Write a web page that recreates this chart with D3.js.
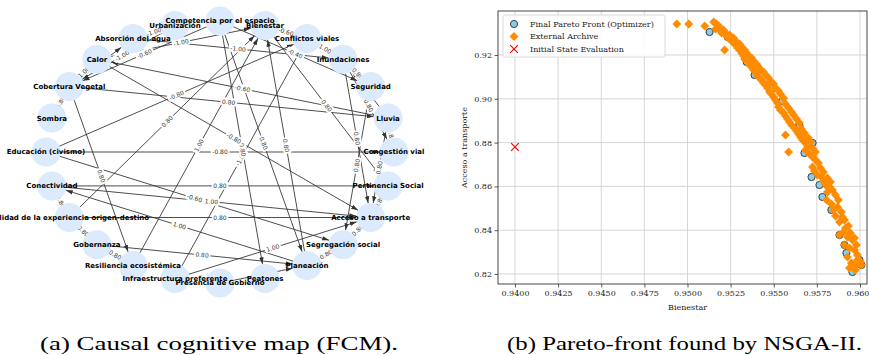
<!DOCTYPE html>
<html>
<head>
<meta charset="utf-8">
<script src="https://cdn.jsdelivr.net/npm/d3@7"></script>
<style>
body { margin: 0; background: #fff; }
svg { display: block; }
</style>
</head>
<body>
<svg id="mysvg" width="869" height="355"></svg>
<script>
// FCM concepts, clockwise from the top of the circle
var nodeNames = ["Competencia por el espacio", "Bienestar", "Conflictos viales", "Inundaciones",
    "Seguridad", "Lluvia", "Congestión vial", "Pertinencia Social", "Acceso a transporte",
    "Segregación social", "Planeación", "Peatones", "Presencia de Gobierno",
    "Infraestructura preferente", "Resiliencia ecosistémica", "Gobernanza",
    "Calidad de la experiencia  origen-destino", "Conectividad", "Educación (civismo)",
    "Sombra", "Cobertura Vegetal", "Calor", "Absorción del agua", "Urbanización"];

// causal links (index into nodeNames) and their weights
var edgeSource = [23, 20, 20, 23, 0, 21, 5, 22, 2, 0, 3, 5, 3, 3, 5, 3, 4, 5, 7, 9, 10, 12,
    18, 18, 18, 17, 17, 10, 16, 16, 17, 15, 15, 15, 20, 20, 14, 13, 13, 0, 0, 10, 1, 21, 20];
var edgeTarget = [22, 22, 21, 20, 20, 1, 21, 3, 1, 4, 2, 3, 4, 6, 6, 8, 9, 8, 8, 8, 9, 10,
    6, 2, 9, 7, 8, 17, 8, 1, 16, 16, 10, 14, 14, 19, 1, 2, 8, 10, 11, 1, 7, 8, 5];
var edgeWeight = ["-1.00", "1.00", "-1.00", "-1.00", "-0.60", "-1.00", "-0.60", "-1.00", "-0.60",
    "-0.40", "1.00", "0.80", "-0.80", "0.80", "0.80", "0.80", "0.80", "0.80", "0.80", "-0.80",
    "-0.80", "0.80", "-0.80", "-0.80", "-0.60", "0.80", "1.00", "1.00", "0.80", "0.80", "0.80",
    "0.80", "0.80", "0.80", "0.80", "0.80", "1.00", "-1.00", "1.00", "0.80", "0.80", "0.80",
    "0.80", "-0.80", "0.80"];

// Pareto plot data (Bienestar, Acceso a transporte)
var frontBienestar = [0.95128, 0.95233, 0.95343, 0.95389, 0.95493, 0.95551, 0.95638, 0.95649,
    0.95678, 0.95725, 0.95719, 0.95765, 0.95782, 0.95834, 0.95881, 0.95910, 0.95921, 0.95956,
    0.96008, 0.95997];
var frontAcceso = [0.93050, 0.92822, 0.91680, 0.91087, 0.90493, 0.89900, 0.88712, 0.88758,
    0.87525, 0.87982, 0.86429, 0.86064, 0.85516, 0.84922, 0.83781, 0.83324, 0.82959, 0.82091,
    0.82411, 0.82639];

var archiveBienestar = [0.94938, 0.95007, 0.95100, 0.95152, 0.95169, 0.95181, 0.95163, 0.95186,
    0.95198, 0.95215, 0.95227, 0.95238, 0.95250, 0.95262, 0.95273, 0.95285, 0.95291, 0.95302,
    0.95314, 0.95325, 0.95331, 0.95343, 0.95354, 0.95360, 0.95372, 0.95383, 0.95395, 0.95406,
    0.95418, 0.95429, 0.95441, 0.95453, 0.95464, 0.95476, 0.95487, 0.95499, 0.95510, 0.95522,
    0.95528, 0.95539, 0.95557, 0.95568, 0.95580, 0.95591, 0.95603, 0.95620, 0.95632, 0.95644,
    0.95568, 0.95655, 0.95667, 0.95684, 0.95696, 0.95586, 0.95684, 0.95707, 0.95725, 0.95742,
    0.95725, 0.95736, 0.95753, 0.95777, 0.95788, 0.95800, 0.95823, 0.95811, 0.95806, 0.95834,
    0.95846, 0.95869, 0.95858, 0.95898, 0.95881, 0.95916, 0.95904, 0.95881, 0.95927, 0.95956,
    0.95910, 0.95939, 0.95968, 0.95927, 0.95985, 0.95950, 0.95939, 0.95973, 0.96008,
    0.95209, 0.95221, 0.95244, 0.95267, 0.95279, 0.95302, 0.95314, 0.95331, 0.95343, 0.95354,
    0.95372, 0.95383, 0.95400, 0.95412, 0.95424, 0.95441, 0.95453, 0.95470, 0.95481, 0.95499,
    0.95510, 0.95528, 0.95539, 0.95557, 0.95568, 0.95586, 0.95603, 0.95615, 0.95632, 0.95649,
    0.95661, 0.95678, 0.95701, 0.95713, 0.95725, 0.95742, 0.95759, 0.95771, 0.95788, 0.95811,
    0.95829, 0.95840, 0.95858, 0.95875, 0.95892, 0.95910, 0.95933, 0.95944, 0.95968, 0.95979,
    0.95985, 0.96002, 0.95979, 0.95956];
var archiveAcceso = [0.93416, 0.93416, 0.93324, 0.93507, 0.93416, 0.93324, 0.93187, 0.93142,
    0.93005, 0.92228, 0.92868, 0.92776, 0.92685, 0.92594, 0.92502, 0.92457, 0.92320, 0.92228,
    0.92091, 0.91954, 0.91817, 0.91772, 0.91680, 0.91543, 0.91452, 0.91315, 0.91178, 0.91041,
    0.90950, 0.90858, 0.90721, 0.90630, 0.90493, 0.90311, 0.90219, 0.90082, 0.89945, 0.89808,
    0.89626, 0.89489, 0.89352, 0.89215, 0.89078, 0.88941, 0.88804, 0.88667, 0.88530, 0.88393,
    0.88347, 0.88256, 0.88119, 0.87982, 0.87845, 0.87571, 0.87662, 0.87479, 0.87342, 0.87205,
    0.86886, 0.86703, 0.86521, 0.86429, 0.86247, 0.86064, 0.85973, 0.85744, 0.85379, 0.85196,
    0.84922, 0.85059, 0.84648, 0.84603, 0.84374, 0.84100, 0.83918, 0.83781, 0.83689, 0.83553,
    0.83324, 0.83187, 0.83096, 0.82776, 0.82639, 0.82502, 0.82274, 0.82183, 0.82411,
    0.93142, 0.93005, 0.92913, 0.92776, 0.92639, 0.92502, 0.92365, 0.92228, 0.92091, 0.91954,
    0.91863, 0.91726, 0.91589, 0.91452, 0.91315, 0.91224, 0.91087, 0.90950, 0.90813, 0.90676,
    0.90493, 0.90356, 0.90219, 0.90037, 0.89763, 0.89580, 0.89397, 0.89260, 0.89078, 0.88895,
    0.88621, 0.88438, 0.88210, 0.88027, 0.87753, 0.87571, 0.87068, 0.86840, 0.86658, 0.86384,
    0.86201, 0.85836, 0.85607, 0.85379, 0.84831, 0.84466, 0.84192, 0.83872, 0.83644, 0.83324,
    0.82868, 0.82548, 0.82411, 0.82457];

var initialBienestar = [0.9400];
var initialAcceso = [0.878];

var xTicks = [0.9400, 0.9425, 0.9450, 0.9475, 0.9500, 0.9525, 0.9550, 0.9575, 0.9600];
var yTicks = [0.82, 0.84, 0.86, 0.88, 0.90, 0.92];

var legendLabels = ["Final Pareto Front (Optimizer)", "External Archive", "Initial State Evaluation"];
var captions = ["(a) Causal cognitive map (FCM).", "(b) Pareto-front found by NSGA-II."];

function drawMap(svg) {
    var nodeR = 14.5;
    var nx = d3.scaleLinear().domain([-1, 1]).range([46, 394]);
    var ny = d3.scaleLinear().domain([-1, 1]).range([283, 21]);

    var nodes = nodeNames.map(function (name, i) {
        var a = (90 - 15 * i) * Math.PI / 180;
        return { name: name, x: nx(Math.cos(a)), y: ny(Math.sin(a)) };
    });

    var edges = edgeSource.map(function (s, i) {
        var a = nodes[s], b = nodes[edgeTarget[i]];
        var dx = b.x - a.x, dy = b.y - a.y, l = Math.hypot(dx, dy);
        return { s: a, t: b, w: edgeWeight[i], ux: dx / l, uy: dy / l };
    });

    svg.append("defs").append("marker")
        .attr("id", "arrow")
        .attr("markerUnits", "userSpaceOnUse")
        .attr("viewBox", "0 -3 7 6")
        .attr("refX", 7).attr("refY", 0)
        .attr("markerWidth", 7).attr("markerHeight", 6)
        .attr("orient", "auto")
        .append("path")
        .attr("d", "M0,-2.2L7,0L0,2.2Z")
        .attr("fill", "#333");

    var g = svg.append("g");

    g.selectAll(".edge")
        .data(edges).enter().append("line")
        .attr("class", "edge")
        .attr("x1", function (d) { return d.s.x + d.ux * nodeR; })
        .attr("y1", function (d) { return d.s.y + d.uy * nodeR; })
        .attr("x2", function (d) { return d.t.x - d.ux * nodeR; })
        .attr("y2", function (d) { return d.t.y - d.uy * nodeR; })
        .attr("stroke", "#3a3a3a")
        .attr("stroke-width", 0.9)
        .attr("marker-end", "url(#arrow)");

    // weight labels at the midpoint, turned along the edge
    var lab = g.selectAll(".wlab")
        .data(edges).enter().append("g")
        .attr("class", "wlab")
        .attr("transform", function (d) {
            var mx = (d.s.x + d.t.x) / 2, my = (d.s.y + d.t.y) / 2;
            var ang = Math.atan2(d.uy, d.ux) * 180 / Math.PI;
            if (ang > 90) ang -= 180;
            if (ang < -90) ang += 180;
            return "translate(" + mx + "," + my + ") rotate(" + ang + ")";
        });
    lab.append("rect").attr("fill", "#fff");
    lab.append("text")
        .attr("text-anchor", "middle")
        .attr("dy", "0.35em")
        .attr("font-family", "DejaVu Sans")
        .attr("font-size", "6px")
        .attr("fill", "#333")
        .text(function (d) { return d.w; });
    lab.each(function () {
        var t = d3.select(this).select("text").node().getBBox();
        d3.select(this).select("rect")
            .attr("x", t.x - 1.5).attr("y", t.y - 0.5)
            .attr("width", t.width + 3).attr("height", t.height + 1)
            .attr("rx", 2);
    });

    g.selectAll(".node")
        .data(nodes).enter().append("circle")
        .attr("class", "node")
        .attr("cx", function (d) { return d.x; })
        .attr("cy", function (d) { return d.y; })
        .attr("r", nodeR)
        .attr("fill", "#dbeafc");

    g.selectAll(".nlab")
        .data(nodes).enter().append("text")
        .attr("class", "nlab")
        .attr("x", function (d) { return d.x; })
        .attr("y", function (d) { return d.y; })
        .attr("dy", "0.35em")
        .attr("text-anchor", "middle")
        .attr("font-family", "DejaVu Sans")
        .attr("font-weight", "bold")
        .attr("font-size", "7px")
        .attr("fill", "#000")
        .text(function (d) { return d.name; });
}

function drawPareto(svg) {
    var pL = 498, pR = 867, pT = 11, pB = 284;
    var x = d3.scaleLinear().domain([0.939016, 0.960405]).range([pL, pR]);
    var y = d3.scaleLinear().domain([0.81543, 0.94009]).range([pB, pT]);

    var g = svg.append("g");

    g.append("g").selectAll("line")
        .data(xTicks).enter().append("line")
        .attr("x1", function (d) { return x(d); }).attr("x2", function (d) { return x(d); })
        .attr("y1", pT).attr("y2", pB)
        .attr("stroke", "#d3d3d3").attr("stroke-width", 0.9);
    g.append("g").selectAll("line")
        .data(yTicks).enter().append("line")
        .attr("y1", function (d) { return y(d); }).attr("y2", function (d) { return y(d); })
        .attr("x1", pL).attr("x2", pR)
        .attr("stroke", "#d3d3d3").attr("stroke-width", 0.9);

    var xAxis = g.append("g")
        .attr("transform", "translate(0," + pB + ")")
        .call(d3.axisBottom(x).tickValues(xTicks).tickFormat(d3.format(".4f")).tickSize(3.5).tickPadding(2.5));
    var yAxis = g.append("g")
        .attr("transform", "translate(" + pL + ",0)")
        .call(d3.axisLeft(y).tickValues(yTicks).tickFormat(d3.format(".2f")).tickSize(3.5).tickPadding(2.5));
    [xAxis, yAxis].forEach(function (a) {
        a.select(".domain").remove();
        a.selectAll("line").attr("stroke", "#333").attr("stroke-width", 0.8);
        a.selectAll("text").attr("font-family", "DejaVu Serif").attr("font-size", "8px").attr("fill", "#222");
    });

    g.append("rect")
        .attr("x", pL).attr("y", pT)
        .attr("width", pR - pL).attr("height", pB - pT)
        .attr("fill", "none").attr("stroke", "#333").attr("stroke-width", 0.9);

    g.append("text")
        .attr("x", (pL + pR) / 2 + 5).attr("y", 310)
        .attr("text-anchor", "middle")
        .attr("font-family", "DejaVu Serif").attr("font-size", "8px").attr("fill", "#222")
        .text("Bienestar");
    g.append("text")
        .attr("transform", "translate(467," + (pT + pB) / 2 + ") rotate(-90)")
        .attr("text-anchor", "middle")
        .attr("font-family", "DejaVu Serif").attr("font-size", "8px").attr("fill", "#222")
        .text("Acceso a transporte");

    svg.append("clipPath").attr("id", "plotclip")
        .append("rect").attr("x", pL).attr("y", pT).attr("width", pR - pL + 6).attr("height", pB - pT);

    var gPts = g.append("g").attr("clip-path", "url(#plotclip)");

    gPts.selectAll(".front")
        .data(frontBienestar).enter().append("circle")
        .attr("class", "front")
        .attr("cx", function (d) { return x(d); })
        .attr("cy", function (d, i) { return y(frontAcceso[i]); })
        .attr("r", 3.6)
        .attr("fill", "#87ceeb").attr("stroke", "#2a2a2a").attr("stroke-width", 0.9);

    var diamond = d3.symbol().type(d3.symbolDiamond2).size(50);
    gPts.selectAll(".arch")
        .data(archiveBienestar).enter().append("path")
        .attr("class", "arch")
        .attr("d", diamond)
        .attr("transform", function (d, i) { return "translate(" + x(d) + "," + y(archiveAcceso[i]) + ")"; })
        .attr("fill", "#ff8c00");

    var cross = d3.symbol().type(d3.symbolTimes).size(40);
    gPts.selectAll(".init")
        .data(initialBienestar).enter().append("path")
        .attr("class", "init")
        .attr("d", cross)
        .attr("transform", function (d, i) { return "translate(" + x(d) + "," + y(initialAcceso[i]) + ")"; })
        .attr("fill", "none").attr("stroke", "red").attr("stroke-width", 1.2);

    // legend
    var lg = g.append("g");
    lg.append("rect")
        .attr("x", 503).attr("y", 15).attr("width", 162).attr("height", 42).attr("rx", 2)
        .attr("fill", "#fff").attr("fill-opacity", 0.85)
        .attr("stroke", "#d0d0d0").attr("stroke-width", 0.8);
    lg.append("circle").attr("cx", 514).attr("cy", 24).attr("r", 3.6)
        .attr("fill", "#87ceeb").attr("stroke", "#2a2a2a").attr("stroke-width", 0.9);
    lg.append("path").attr("d", diamond).attr("transform", "translate(514,36.5)").attr("fill", "#ff8c00");
    lg.append("path").attr("d", cross).attr("transform", "translate(514,49)")
        .attr("fill", "none").attr("stroke", "red").attr("stroke-width", 1.2);
    lg.selectAll(".lt")
        .data(legendLabels).enter().append("text")
        .attr("class", "lt")
        .attr("x", 530)
        .attr("y", function (d, i) { return 24 + i * 12.5; })
        .attr("dy", "0.35em")
        .attr("font-family", "DejaVu Serif").attr("font-size", "8px").attr("fill", "#222")
        .text(function (d) { return d; });
}

var svg = d3.select("#mysvg");
drawMap(svg);
drawPareto(svg);

// captions
svg.selectAll(".cap")
    .data(captions).enter().append("text")
    .attr("class", "cap")
    .attr("x", function (d, i) { return i == 0 ? 40 : 507; })
    .attr("y", 350)
    .attr("font-family", "Liberation Serif").attr("font-size", "19.5px").attr("fill", "#000")
    .attr("textLength", function (d, i) { return i == 0 ? 358 : 355; })
    .attr("lengthAdjust", "spacingAndGlyphs")
    .text(function (d) { return d; });
</script>
</body>
</html>
